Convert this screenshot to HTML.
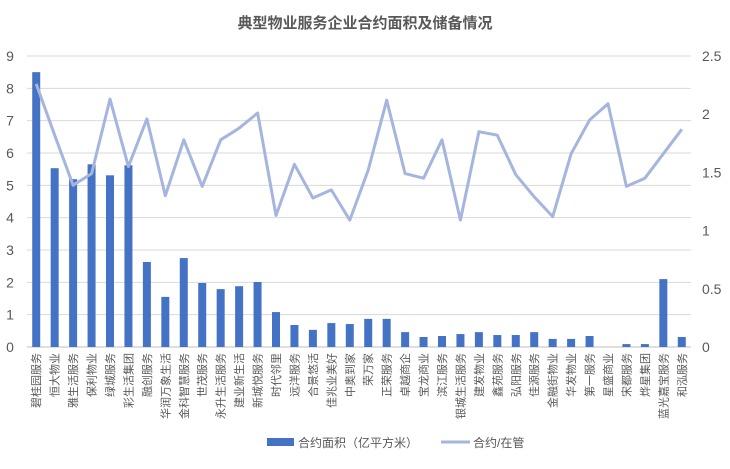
<!DOCTYPE html>
<html><head><meta charset="utf-8">
<style>
body{margin:0;background:#fff;}
svg text{font-family:"Liberation Sans","Noto Sans CJK SC",sans-serif;}
</style></head>
<body>
<svg id="chart" width="730" height="464" xmlns="http://www.w3.org/2000/svg">
<text x="365" y="28" text-anchor="middle" font-size="15" font-weight="bold" fill="#595959">典型物业服务企业合约面积及储备情况</text>
<g id="grid"></g><g id="bars"></g><g id="line"></g><g id="axes"></g>
<g>
<rect x="267" y="438" width="27" height="8" fill="#4472C4"/>
<text x="298" y="447" font-size="12" fill="#595959">合约面积（亿平方米）</text>
<line x1="441" y1="442" x2="470" y2="442" stroke="#A5B5DD" stroke-width="3"/>
<text x="473" y="447" font-size="12" fill="#595959">合约/在管</text>
</g>
</svg>
<script>
const categories=["碧桂园服务","恒大物业","雅生活服务","保利物业","绿城服务","彩生活集团","融创服务","华润万象生活","金科智慧服务","世茂服务","永升生活服务","建业新生活","新城悦服务","时代邻里","远洋服务","合景悠活","佳兆业美好","中奥到家","荣万家","正荣服务","卓越商企","宝龙商业","滨江服务","银城生活服务","建发物业","鑫苑服务","弘阳服务","佳源服务","金融街物业","华发物业","第一服务","星盛商业","宋都服务","烨星集团","蓝光嘉宝服务","和泓服务"];
const areaValues=[8.5,5.53,5.19,5.65,5.31,5.62,2.63,1.55,2.75,1.98,1.79,1.88,2.01,1.08,0.68,0.53,0.74,0.71,0.87,0.87,0.46,0.31,0.34,0.40,0.46,0.37,0.37,0.46,0.25,0.25,0.34,0,0.09,0.09,2.1,0.31];
const ratioValues=[2.26,1.82,1.39,1.49,2.13,1.55,1.96,1.30,1.78,1.38,1.78,1.88,2.01,1.13,1.57,1.28,1.35,1.09,1.52,2.12,1.49,1.45,1.78,1.09,1.85,1.82,1.48,1.29,1.12,1.66,1.95,2.09,1.38,1.45,1.66,1.87];
const leftTicks=[0,1,2,3,4,5,6,7,8,9];
const rightTicks=["0","0.5","1","1.5","2","2.5"];
const NS="http://www.w3.org/2000/svg";
const X0=27,X1=691,Y0=347,Y1=56;
const step=(X1-X0)/categories.length;
const xC=i=>X0+step*(i+0.5);
const yL=v=>Y0-(v/9)*(Y0-Y1);
const yR=v=>Y0-(v/2.5)*(Y0-Y1);
function mk(tag,attrs,parent){const e=document.createElementNS(NS,tag);for(const k in attrs)e.setAttribute(k,attrs[k]);document.getElementById(parent).appendChild(e);return e;}
leftTicks.forEach(t=>{
 const y=yL(t);
 const g=mk('line',{x1:X0,x2:X1,y1:y,y2:y,stroke:t===0?'#BFBFBF':'#D9D9D9','stroke-width':1},'grid');
 
 
 const tx=mk('text',{x:10,y:y+5,'font-size':14,fill:'#595959','text-anchor':'middle'},'axes');
 
 
 tx.textContent=t;
});
rightTicks.forEach(t=>{
 const y=yR(parseFloat(t));
 const tx=mk('text',{x:702,y:y+5,'font-size':14,fill:'#595959'},'axes');
 
 
 tx.textContent=t;
});
areaValues.forEach((v,i)=>{
 const y=yL(v);
 const r=mk('rect',{x:xC(i)-4,y:y,width:8,height:Y0-y,fill:'#4472C4'},'bars');
 
 
});
const pts=ratioValues.map((v,i)=>xC(i).toFixed(1)+','+yR(v).toFixed(1)).join(' ');
const pl=mk('polyline',{points:pts,fill:'none',stroke:'#A5B5DD','stroke-width':3,'stroke-linejoin':'round'},'line');


categories.forEach((c,i)=>{
 const x=xC(i)+4,y=353;
 const t=mk('text',{x:x,y:y,'font-size':11,fill:'#595959','text-anchor':'end',transform:`rotate(-90 ${x} ${y})`},'axes');
 
 
 t.textContent=c;
});
</script>
</body></html>
